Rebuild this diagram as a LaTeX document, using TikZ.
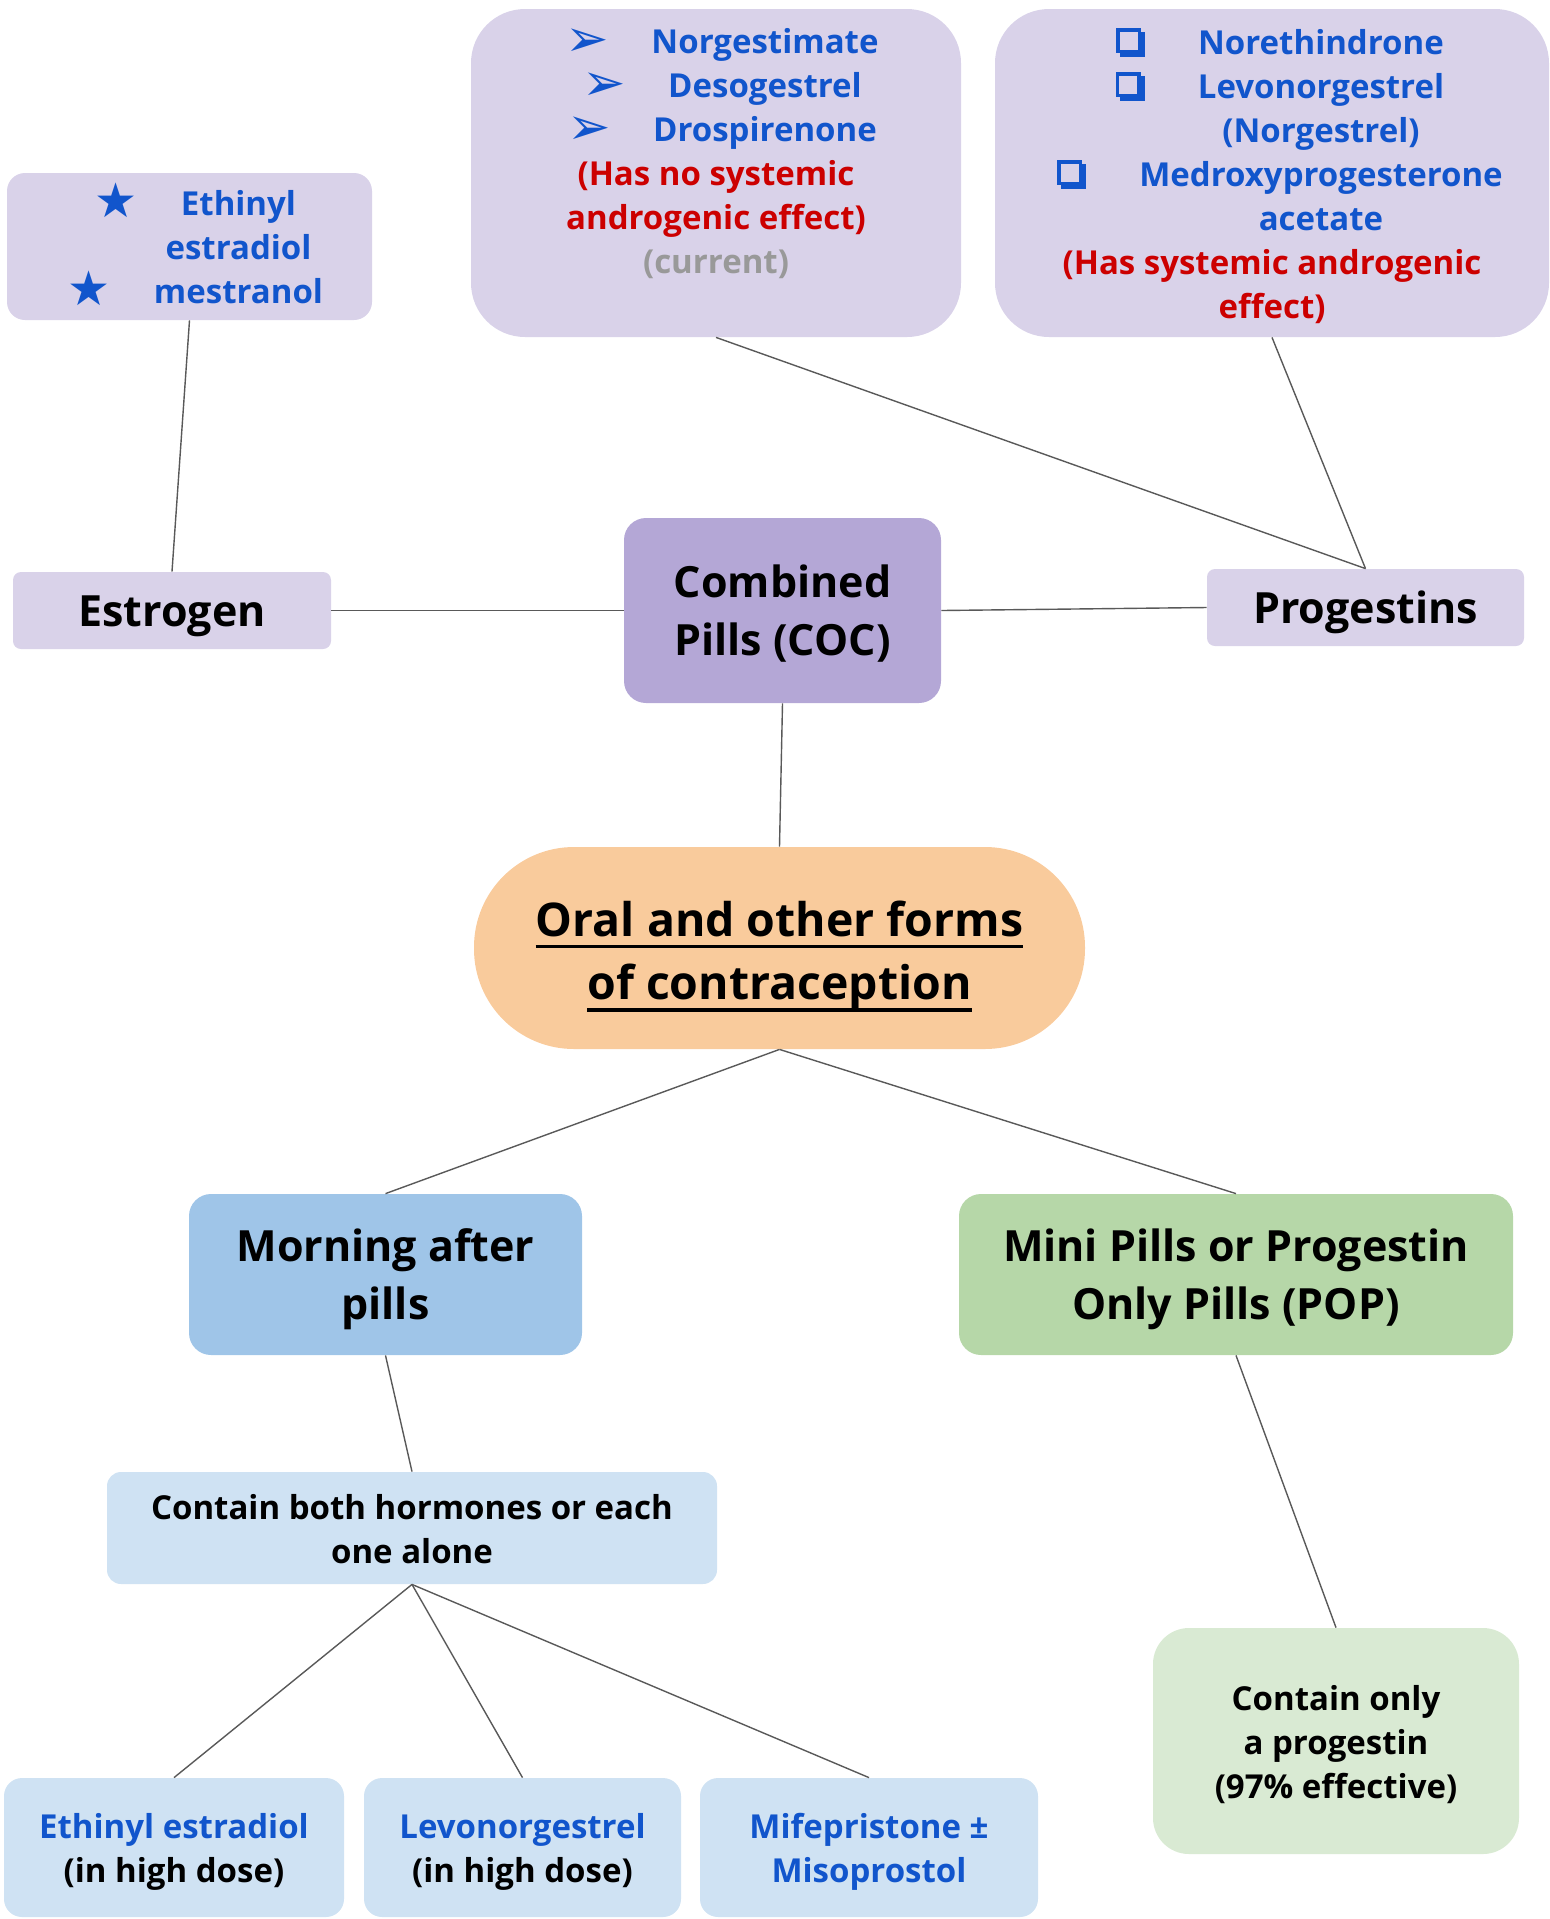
\documentclass[tikz,border=0pt]{standalone}
\usepackage{fontspec}
\setmainfont{Open Sans}
\newfontfamily\symfont{DejaVu Sans}
\usetikzlibrary{positioning}

\definecolor{lavlight}{HTML}{D9D2E9}
\definecolor{lavdark}{HTML}{B4A7D6}
\definecolor{peach}{HTML}{F9CB9C}
\definecolor{skyblue}{HTML}{9FC5E8}
\definecolor{paleblue}{HTML}{CFE2F3}
\definecolor{leafgreen}{HTML}{B6D7A8}
\definecolor{palegreen}{HTML}{D9EAD3}
\definecolor{bluetxt}{HTML}{1155CC}
\definecolor{redtxt}{HTML}{CC0000}
\definecolor{graytxt}{HTML}{999999}
\definecolor{linegray}{HTML}{595959}

% bullets of the drug lists
\newcommand\sqmark{\makebox[0pt][l]{\hspace{2pt}\raisebox{-1.6pt}{\rule{12.5pt}{12.5pt}}}%
  \makebox[0pt][l]{\raisebox{0.4pt}{\rule{12.5pt}{12.5pt}}}%
  \makebox[0pt][l]{\hspace{1.7pt}\raisebox{2.1pt}{\textcolor{lavlight}{\rule{9.1pt}{9.1pt}}}}}
\newcommand\staritem[1]{\hspace*{6pt}\makebox[43pt][l]{\raisebox{-1pt}[0pt][0pt]{\symfont\fontsize{24}{24}\selectfont ★}}#1}
\newcommand\arritem[1]{\hspace*{6pt}\makebox[43pt][l]{\raisebox{-1.5pt}[0pt][0pt]{\symfont\fontsize{26}{26}\selectfont ➢}}#1}
\newcommand\sqitem[1]{\hspace*{8pt}\makebox[41pt][l]{\sqmark}#1}
\newcommand\contline[2]{\hspace*{#1}#2}
\newcommand\ulin[1]{\setbox0=\hbox{#1}\rlap{\rule[-6pt]{\wd0}{1.7pt}}\box0}
% lines of a box, set a little low as in the slide
\newcommand\tbox[2][2.2pt]{\raisebox{-#1}[\height][\depth]{\begin{tabular}{@{}c@{}}#2\end{tabular}}}

\tikzset{
  box/.style={fill=#1, draw=none, inner sep=0pt},
  bigfont/.style={font=\bfseries\fontsize{21.5}{29}\selectfont},
  smallfont/.style={font=\bfseries\fontsize{16.5}{22}\selectfont},
  titlefont/.style={font=\bfseries\fontsize{23.2}{31.8}\selectfont},
  link/.style={draw=linegray, line width=0.7pt}
}

\begin{document}
\begin{tikzpicture}[x=0.5pt,y=-0.5pt]
\useasboundingbox (0,0) rectangle (1550,1919);

% top boxes
\node[box=lavlight, smallfont, text=bluetxt, rounded corners=9pt,
  minimum width=182.5pt, minimum height=73.5pt] (estlist) at (189.5,246.5)
  {\tbox{\staritem{Ethinyl}\\ \contline{49pt}{estradiol}\\ \staritem{mestranol}}};
\node[box=lavlight, rounded corners=27pt, minimum width=245pt, minimum height=164pt] (norgbox) at (716,173) {};
\node[smallfont, text=bluetxt, inner sep=0pt] (norgtxt) at (716,150)
  {\tbox{\arritem{Norgestimate}\\ \arritem{Desogestrel}\\ \arritem{Drospirenone}\\
   \textcolor{redtxt}{(Has no systemic}\\ \textcolor{redtxt}{androgenic effect)}\\
   \textcolor{graytxt}{(current)}}};
\node[box=lavlight, smallfont, text=bluetxt, rounded corners=27pt,
  minimum width=277pt, minimum height=164pt] (norebox) at (1272,173)
  {\tbox{\sqitem{Norethindrone}\\ \sqitem{Levonorgestrel}\\ \contline{49pt}{(Norgestrel)}\\
   \sqitem{Medroxyprogesterone}\\ \contline{49pt}{acetate}\\
   \textcolor{redtxt}{(Has systemic androgenic}\\ \textcolor{redtxt}{effect)}}};

% middle row
\node[box=lavlight, bigfont, rounded corners=4pt, minimum width=159pt, minimum height=38.5pt] (estrogen) at (172,610.5) {\tbox{Estrogen}};
\node[box=lavdark, bigfont, rounded corners=11pt, minimum width=158.5pt, minimum height=92.5pt] (coc) at (782.5,610.5) {\tbox{Combined\\ Pills (COC)}};
\node[box=lavlight, bigfont, rounded corners=4pt, minimum width=158.5pt, minimum height=38.5pt] (progestins) at (1365.5,607.5) {\tbox{Progestins}};

% centre
\node[box=peach, titlefont, rounded corners=50pt,
  minimum width=305.5pt, minimum height=101pt] (oral) at (779.5,948)
  {\tbox[3.6pt]{\ulin{Oral and other forms}\\ \ulin{of contraception}}};

% lower part
\node[box=skyblue, bigfont, rounded corners=11pt, minimum width=196.5pt, minimum height=80.5pt] (morning) at (385.5,1274.5) {\tbox{Morning after\\ pills}};
\node[box=leafgreen, bigfont, rounded corners=11pt, minimum width=277pt, minimum height=80.5pt] (mini) at (1236,1274.5) {\tbox{Mini Pills or Progestin\\ Only Pills (POP)}};
\node[box=paleblue, smallfont, rounded corners=7pt, minimum width=305pt, minimum height=56pt] (both) at (412,1528) {\tbox{Contain both hormones or each\\ one alone}};
\node[box=palegreen, smallfont, rounded corners=18pt, minimum width=183pt, minimum height=113pt] (only) at (1336,1741) {\tbox{Contain only\\ a progestin\\ (97\% effective)}};
\node[box=paleblue, smallfont, rounded corners=9pt, minimum width=170pt, minimum height=69.5pt] (ethbot) at (174,1847.5) {\tbox{\textcolor{bluetxt}{Ethinyl estradiol}\\ (in high dose)}};
\node[box=paleblue, smallfont, rounded corners=9pt, minimum width=158.5pt, minimum height=69.5pt] (levbot) at (522.5,1847.5) {\tbox{\textcolor{bluetxt}{Levonorgestrel}\\ (in high dose)}};
\node[box=paleblue, smallfont, text=bluetxt, rounded corners=9pt, minimum width=169pt, minimum height=69.5pt] (mifbot) at (869,1847.5) {\tbox{Mifepristone ±\\ Misoprostol}};

% connectors
\draw[link] (estlist.south) -- (estrogen.north);
\draw[link] (estrogen.east) -- (coc.west);
\draw[link] (coc.east) -- (progestins.west);
\draw[link] (norgbox.south) -- (progestins.north);
\draw[link] (norebox.south) -- (progestins.north);
\draw[link] (coc.south) -- (oral.north);
\draw[link] (oral.south) -- (morning.north);
\draw[link] (oral.south) -- (mini.north);
\draw[link] (morning.south) -- (both.north);
\draw[link] (mini.south) -- (only.north);
\draw[link] (both.south) -- (ethbot.north);
\draw[link] (both.south) -- (levbot.north);
\draw[link] (both.south) -- (mifbot.north);
\end{tikzpicture}
\end{document}
